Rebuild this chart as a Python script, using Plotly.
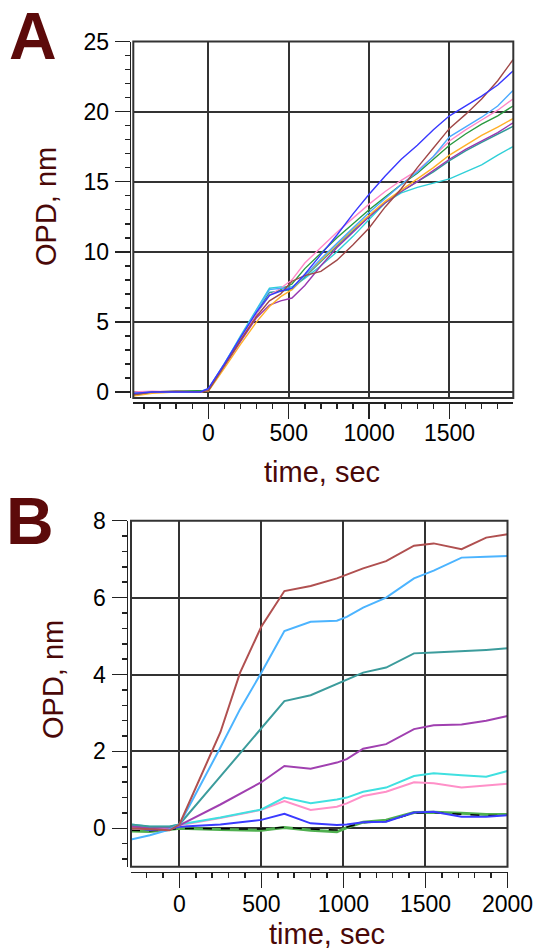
import plotly.graph_objects as go

# ---------------- Panel A data ----------------
time_a = [-470, -350, -200, -50, 0, 100, 200, 300, 380, 450, 520, 600, 700, 800, 900,
          1000, 1100, 1200, 1300, 1400, 1500, 1600, 1700, 1800, 1895]
a_cyan = [-0.05, 0.0, 0.0, 0.05, 0.2, 2.0, 4.0, 5.9, 7.4, 7.5, 7.5, 8.1, 9.0, 10.0, 11.1,
          12.3, 13.5, 14.2, 14.6, 14.9, 15.2, 15.7, 16.2, 16.9, 17.5]
a_blue = [-0.1, 0.0, 0.0, 0.0, 0.25, 2.0, 3.9, 5.7, 6.9, 7.2, 7.4, 8.4, 9.8, 11.2, 12.7,
          14.1, 15.4, 16.6, 17.6, 18.7, 19.7, 20.4, 21.1, 21.9, 22.9]
a_brown = [-0.2, 0.0, 0.05, 0.0, 0.1, 1.9, 3.7, 5.4, 6.5, 7.0, 7.9, 8.3, 8.6, 9.4, 10.5,
           11.7, 13.2, 14.5, 16.0, 17.4, 18.8, 19.8, 20.9, 22.2, 23.7]
a_lightblue = [-0.1, 0.0, 0.0, 0.0, 0.2, 2.0, 3.9, 5.8, 7.3, 7.4, 7.4, 8.3, 9.5, 10.6, 11.7,
               12.8, 13.8, 14.8, 15.7, 16.8, 18.2, 18.9, 19.6, 20.4, 21.5]
a_pink = [0.0, 0.05, 0.0, 0.0, 0.15, 1.9, 3.8, 5.6, 6.9, 7.4, 8.0, 9.2, 10.3, 11.4, 12.4,
          13.4, 14.3, 15.1, 15.8, 16.8, 17.9, 18.7, 19.4, 20.1, 20.9]
a_green = [-0.2, 0.0, 0.05, 0.1, 0.1, 1.9, 3.8, 5.6, 6.9, 7.3, 7.7, 8.8, 9.9, 11.0, 12.0,
           13.0, 13.9, 14.8, 15.6, 16.6, 17.6, 18.4, 19.1, 19.7, 20.4]
a_orange = [-0.3, -0.1, 0.0, 0.0, 0.05, 1.7, 3.4, 5.0, 6.1, 6.8, 7.3, 8.3, 9.4, 10.5, 11.6,
            12.6, 13.6, 14.4, 15.2, 16.0, 16.9, 17.6, 18.3, 18.9, 19.5]
a_purple = [-0.2, 0.0, 0.0, 0.0, 0.1, 1.8, 3.6, 5.3, 6.2, 6.5, 6.7, 7.6, 9.0, 10.3, 11.4,
            12.5, 13.5, 14.3, 15.0, 15.8, 16.6, 17.3, 17.9, 18.5, 19.2]
a_teal = [-0.1, 0.0, 0.0, 0.0, 0.15, 1.9, 3.8, 5.7, 7.1, 7.2, 7.3, 8.2, 9.3, 10.4, 11.5,
          12.5, 13.5, 14.3, 15.0, 15.7, 16.5, 17.2, 17.8, 18.4, 18.95]

# ---------------- Panel B data ----------------
time_b = [-295, -180, -60, 0, 250, 370, 500, 640, 800, 960, 1020, 1120, 1260, 1430, 1550,
          1720, 1870, 2000]
b_brown = [0.0, -0.02, -0.05, 0.1, 2.5, 4.05, 5.25, 6.17, 6.3, 6.5, 6.6, 6.76, 6.95, 7.35, 7.41,
           7.26, 7.56, 7.65]
b_lightblue = [-0.29, -0.18, -0.03, 0.1, 2.1, 3.1, 4.05, 5.13, 5.37, 5.4, 5.5, 5.74, 6.0, 6.5,
               6.7, 7.04, 7.06, 7.08]
b_teal = [0.1, 0.05, 0.05, 0.1, 1.35, 1.95, 2.62, 3.31, 3.46, 3.75, 3.85, 4.05, 4.18, 4.55, 4.57,
          4.6, 4.64, 4.68]
b_purple = [0.06, 0.0, 0.03, 0.08, 0.62, 0.9, 1.2, 1.62, 1.55, 1.71, 1.8, 2.07, 2.19, 2.58, 2.68,
            2.7, 2.8, 2.92]
b_cyan = [0.1, 0.04, 0.04, 0.1, 0.28, 0.38, 0.49, 0.8, 0.65, 0.75, 0.8, 0.95, 1.06, 1.36, 1.43,
          1.38, 1.34, 1.49]
b_pink = [0.0, -0.02, 0.02, 0.08, 0.27, 0.37, 0.48, 0.71, 0.48, 0.56, 0.65, 0.84, 0.95, 1.2,
          1.17, 1.06, 1.12, 1.16]
b_blue = [0.02, -0.04, -0.02, 0.04, 0.1, 0.15, 0.22, 0.38, 0.13, 0.09, 0.1, 0.16, 0.17, 0.41,
          0.43, 0.3, 0.3, 0.34]
b_green = [-0.07, -0.08, -0.03, 0.0, -0.03, -0.04, -0.05, 0.02, -0.05, -0.09, 0.02, 0.16, 0.21,
           0.41, 0.42, 0.39, 0.36, 0.36]
b_black = [-0.05, -0.06, -0.03, 0.0, -0.01, -0.02, -0.02, 0.03, -0.02, -0.04, 0.03, 0.15, 0.18,
           0.4, 0.41, 0.36, 0.33, 0.34]

A_series = [
    (a_cyan, "#30d0d8"), (a_teal, "#309a9a"), (a_purple, "#9838b0"), (a_orange, "#ffb028"),
    (a_green, "#2a9a40"), (a_pink, "#ff88c8"), (a_lightblue, "#4caaff"),
    (a_brown, "#a04848"), (a_blue, "#3838ff"),
]
B_series = [
    (b_green, "#50b050", 3, "solid"), (b_black, "#000000", 1.5, "dash"),
    (b_blue, "#3a3aff", 2, "solid"), (b_pink, "#ff90c8", 2, "solid"),
    (b_cyan, "#40e0e0", 2, "solid"), (b_purple, "#a040b0", 2, "solid"),
    (b_teal, "#3c9c9c", 2, "solid"), (b_lightblue, "#4cb4ff", 2, "solid"),
    (b_brown, "#b05050", 2, "solid"),
]

W, H = 535, 952
FONT = "Liberation Sans, Arial, sans-serif"
TITLE_COLOR = "#4a0808"
LABEL_COLOR = "#5c0a0a"
GRID = "#333333"

fig = go.Figure()
for ys, c in A_series:
    fig.add_trace(go.Scatter(x=time_a, y=ys, mode="lines", line=dict(color=c, width=1.4),
                             xaxis="x", yaxis="y", showlegend=False))
for ys, c, w, d in B_series:
    fig.add_trace(go.Scatter(x=time_b, y=ys, mode="lines", line=dict(color=c, width=w, dash=d),
                             xaxis="x2", yaxis="y2", showlegend=False))

# geometry (pixels)
A_left, A_right, A_top, A_bot = 133.3, 513.3, 41.5, 398.0
B_left, B_right, B_top, B_bot = 131.0, 507.5, 520.7, 866.8
A_xline, A_yline = 402.0, 129.7
B_xline, B_yline = 871.7, 126.5

px = lambda v: v / W
py = lambda v: 1 - v / H

tickfont = dict(family=FONT, size=23, color="black")

def common(domain, pos, rng, tv, mdt, standoff):
    return dict(domain=domain, anchor="free", position=pos, range=rng, tickvals=tv,
                ticks="outside", ticklen=15, tickwidth=1.5, tickcolor="#222",
                showline=True, linecolor="#222", linewidth=1.5,
                showgrid=True, gridcolor=GRID, gridwidth=2, zeroline=False,
                minor=dict(dtick=mdt, tick0=0, ticks="outside", ticklen=5, tickwidth=1.5,
                           tickcolor="#222", showgrid=False),
                tickfont=tickfont, ticklabelstandoff=standoff, automargin=False,
                fixedrange=True)

fig.update_layout(
    width=W, height=H, margin=dict(l=0, r=0, t=0, b=0, pad=0, autoexpand=False),
    paper_bgcolor="white", plot_bgcolor="white",
    xaxis=common([px(A_left), px(A_right)], py(A_xline), [-467, 1897], [0, 500, 1000, 1500], 100, -5),
    yaxis=common([py(A_bot), py(A_top)], px(A_yline), [-0.43, 25], [0, 5, 10, 15, 20, 25], 1, 1),
    xaxis2=common([px(B_left), px(B_right)], py(B_xline), [-295, 2000], [0, 500, 1000, 1500, 2000], 100, -4),
    yaxis2=common([py(B_bot), py(B_top)], px(B_yline), [-1, 8], [0, 2, 4, 6, 8], 0.4, 1),
)

# frames
for (l, r, t, b) in [(A_left, A_right, A_top, A_bot), (B_left, B_right, B_top, B_bot)]:
    fig.add_shape(type="rect", xref="paper", yref="paper", x0=px(l), x1=px(r), y0=py(b), y1=py(t),
                  line=dict(color=GRID, width=2), fillcolor="rgba(0,0,0,0)", layer="above")

def ann(text, x, y, size, color, angle=0, bold=False):
    fig.add_annotation(text=f"<b>{text}</b>" if bold else text, x=px(x), y=py(y),
                       xref="paper", yref="paper", showarrow=False, textangle=angle,
                       xanchor="center", yanchor="middle",
                       font=dict(family=FONT, size=size, color=color))

ann("OPD, nm", 46, 207, 29, TITLE_COLOR, angle=-90)
ann("time, sec", 322, 472, 29, TITLE_COLOR)
ann("OPD, nm", 53, 680, 29, TITLE_COLOR, angle=-90)
ann("time, sec", 327, 934, 29, TITLE_COLOR)
ann("A", 33, 36, 66, LABEL_COLOR, bold=True)
ann("B", 30, 521, 66, LABEL_COLOR, bold=True)

fig.write_html(
    "out.html",
    config={"displayModeBar": False, "staticPlot": True},
    post_script="document.body.style.margin='0';document.body.style.overflow='hidden';",
)
